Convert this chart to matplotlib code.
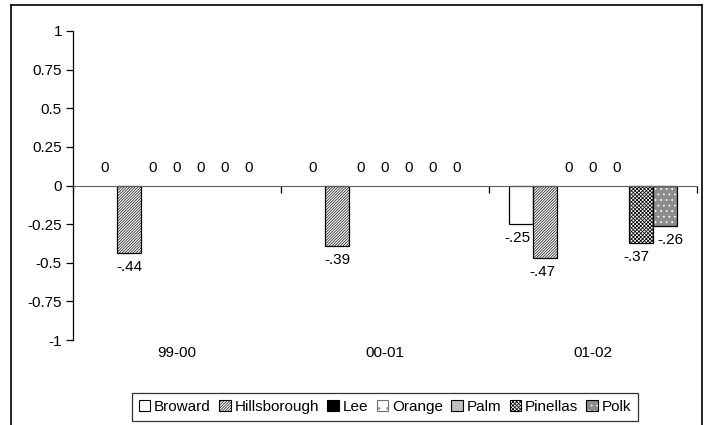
import matplotlib.pyplot as plt
from matplotlib.lines import Line2D
from matplotlib.patches import Patch

plt.rcParams["font.family"] = ["Liberation Sans", "DejaVu Sans"]
plt.rcParams["hatch.linewidth"] = 0.55

years = ["99-00", "00-01", "01-02"]
counties = ["Broward", "Hillsborough", "Lee", "Orange", "Palm", "Pinellas", "Polk"]

broward = [0, 0, -0.25]
hillsborough = [-0.44, -0.39, -0.47]
lee = [0, 0, 0]
orange = [0, 0, 0]
palm = [0, 0, 0]
pinellas = [0, 0, -0.37]
polk = [0, 0, -0.26]

series = [broward, hillsborough, lee, orange, palm, pinellas, polk]

# fill colour, hatch, hatch colour for each county
styles = [
    ("white", None, "black"),
    ("white", "////////////", "#202020"),
    ("black", None, "black"),
    ("white", "..", "#909090"),
    ("#c0c0c0", None, "black"),
    ("white", "xxxxxxxxx", "black"),
    ("#8c8c8c", "...", "white"),
]

# little sideways nudges (pixels) for labels that would touch a bar
nudge = {(0, 2): -4, (1, 2): -3, (5, 2): -5, (6, 2): 5}

FS = 11

fig = plt.figure(figsize=(7.11, 4.25), dpi=100)
ax = fig.add_axes([73 / 711, 85 / 425, 624 / 711, 309 / 425])

bar_w = 24 / 208
handles = []
for j, (name, vals) in enumerate(zip(counties, series)):
    color, hatch, hcol = styles[j]
    xs = [i + 0.5 + (j - 3) * bar_w for i in range(len(years))]
    # fill + hatch (hatch takes the edge colour), then black outline on top
    fill = ax.bar(xs, vals, width=bar_w, color=color, edgecolor=hcol,
                  linewidth=0, hatch=hatch)
    outline = ax.bar(xs, vals, width=bar_w, fill=False, edgecolor="black",
                     linewidth=0.9)
    for b, v in zip(outline, vals):
        if v == 0:
            b.set_linewidth(0)
    for i, (x, v) in enumerate(zip(xs, vals)):
        dx = nudge.get((j, i), 0)
        if v == 0:
            ax.annotate("0", (x, 0), xytext=(dx, 17), textcoords="offset pixels",
                        ha="center", va="center", fontsize=FS)
        else:
            lab = ("%.2f" % v).replace("0.", ".")
            ax.annotate(lab, (x, v), xytext=(dx, -14), textcoords="offset pixels",
                        ha="center", va="center", fontsize=FS)

ax.set_xlim(0, 3)
ax.set_ylim(-1, 1)
ax.set_yticks([-1, -0.75, -0.5, -0.25, 0, 0.25, 0.5, 0.75, 1])
ax.set_yticklabels(["-1", "-0.75", "-0.5", "-0.25", "0", "0.25", "0.5", "0.75", "1"])
ax.set_xticks([0, 1, 2, 3])
ax.set_xticklabels([])

ax.spines["top"].set_visible(False)
ax.spines["right"].set_visible(False)
ax.spines["bottom"].set_position(("data", 0))
ax.spines["bottom"].set_color("#606060")
ax.spines["left"].set_linewidth(0.9)
ax.tick_params(axis="y", direction="out", length=5, width=0.9, labelsize=FS, pad=3)
ax.tick_params(axis="x", direction="out", length=5, width=0.9)

for i, yr in enumerate(years):
    ax.text(i + 0.5, -0.042, yr, transform=ax.get_xaxis_transform(),
            ha="center", va="center", fontsize=FS)

leg_handles = []
for j in range(len(counties)):
    color, hatch, hcol = styles[j]
    leg_handles.append((Patch(facecolor=color, edgecolor=hcol, hatch=hatch, linewidth=0),
                        Patch(fill=False, edgecolor="black" if j != 3 else "#707070",
                              linewidth=0.8)))

leg = fig.legend(handles=leg_handles, labels=counties, loc="center",
                 bbox_to_anchor=(385 / 711, 1 - 407 / 425), ncol=7, fontsize=FS,
                 frameon=True, fancybox=False, edgecolor="black",
                 handlelength=0.75, handleheight=0.75, handletextpad=0.25,
                 columnspacing=0.55, borderpad=0.45, borderaxespad=0)
leg.get_frame().set_linewidth(0.9)

# outer chart border
x0, x1 = 11 / 711, 702 / 711
yt = 1 - 5 / 425
fig.add_artist(Line2D([x0, x0], [0, yt], color="black", lw=1.2, transform=fig.transFigure))
fig.add_artist(Line2D([x1, x1], [0, yt], color="black", lw=1.2, transform=fig.transFigure))
fig.add_artist(Line2D([x0, x1], [yt, yt], color="black", lw=1.2, transform=fig.transFigure))

fig.savefig("out.png", dpi=100)
